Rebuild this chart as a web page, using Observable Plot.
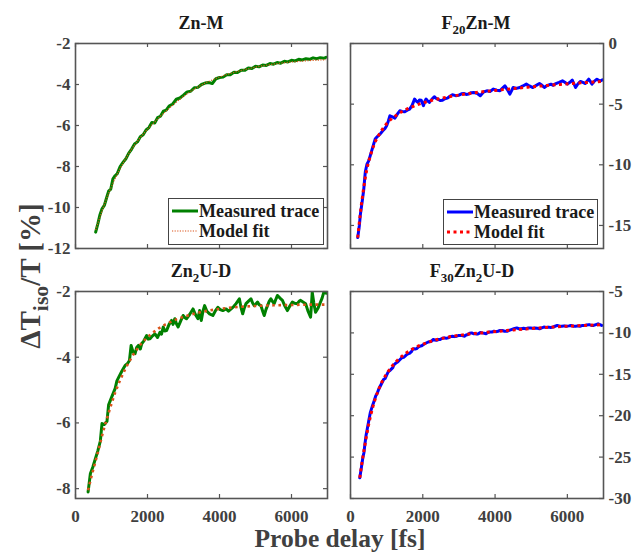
<!DOCTYPE html>
<html><head><meta charset="utf-8">
<script src="https://cdn.jsdelivr.net/npm/d3@7"></script>
<script src="https://cdn.jsdelivr.net/npm/@observablehq/plot@0.6"></script>
<style>
body{margin:0;background:#fff;}
#root{position:relative;width:634px;height:552px;overflow:hidden;font-family:"Liberation Serif","Times New Roman",serif;font-weight:bold;color:#404040;}
.panel{position:absolute;}
.title{position:absolute;font-size:18px;color:#1a1a1a;transform:translate(-50%,-50%);white-space:nowrap;line-height:1;}
.title .s{font-size:0.72em;position:relative;top:0.4em;}
.legend{position:absolute;background:#fff;border:1.5px solid #444;box-sizing:border-box;font-size:18px;color:#1a1a1a;}
.legend .row{position:absolute;left:3px;display:flex;align-items:center;white-space:nowrap;line-height:1;}
.legend svg{margin-right:1px;}
#ylab{position:absolute;left:30px;top:276px;transform:translate(-50%,-50%) rotate(-90deg);font-size:29px;white-space:nowrap;line-height:1;}
#ylab .s{font-size:0.75em;position:relative;top:0.38em;}
#xlab{position:absolute;left:340px;top:539px;transform:translate(-50%,-50%);font-size:25.5px;white-space:nowrap;line-height:0.96;}
</style></head>
<body><div id="root"></div>
<script>
// ---------- data ----------
const xTicks = [0, 2000, 4000, 6000];
const xDomain = [0, 7000];

// Zn-M
const znM_yTicks = [-12, -10, -8, -6, -4, -2];
const znM_yDomain = [-12, -2];
const znM_measured = [[560,-11.20],[620,-10.80],[680,-10.35],[740,-10.05],[800,-9.90],[860,-9.55],[920,-9.20],[980,-9.10],[1040,-8.60],[1100,-8.45],[1160,-8.35],[1240,-8.00],[1320,-7.80],[1400,-7.62],[1480,-7.35],[1560,-7.15],[1640,-6.90],[1720,-6.80],[1800,-6.55],[1880,-6.45],[1960,-6.22],[2040,-6.10],[2120,-5.85],[2200,-5.88],[2280,-5.62],[2360,-5.55],[2440,-5.30],[2520,-5.25],[2600,-5.05],[2700,-4.95],[2800,-4.72],[2900,-4.66],[3000,-4.52],[3100,-4.36],[3200,-4.33],[3300,-4.16],[3400,-4.14],[3500,-4.00],[3600,-3.93],[3700,-3.90],[3800,-3.95],[3900,-3.72],[4000,-3.66],[4100,-3.64],[4200,-3.52],[4300,-3.52],[4400,-3.40],[4500,-3.41],[4600,-3.30],[4700,-3.31],[4800,-3.20],[4900,-3.22],[5000,-3.11],[5100,-3.14],[5200,-3.05],[5300,-3.07],[5400,-2.98],[5500,-3.01],[5600,-2.93],[5700,-2.96],[5800,-2.87],[5900,-2.90],[6000,-2.82],[6100,-2.85],[6200,-2.77],[6300,-2.80],[6400,-2.74],[6500,-2.77],[6600,-2.70],[6700,-2.74],[6800,-2.69],[6900,-2.72],[6960,-2.67]];
const znM_fit = [[560,-11.10],[650,-10.62],[750,-10.10],[850,-9.62],[950,-9.18],[1050,-8.78],[1150,-8.40],[1300,-7.90],[1450,-7.45],[1600,-7.05],[1800,-6.58],[2000,-6.18],[2200,-5.82],[2400,-5.48],[2600,-5.16],[2800,-4.86],[3000,-4.58],[3300,-4.22],[3600,-3.93],[3900,-3.70],[4200,-3.51],[4500,-3.36],[4800,-3.23],[5100,-3.12],[5400,-3.03],[5700,-2.96],[6000,-2.90],[6300,-2.86],[6600,-2.82],[6960,-2.79]];

// F20Zn-M
const f20_yTicks = [-15, -10, -5, 0];
const f20_yDomain = [-16.9, 0];
const f20_measured = [[200,-16.0],[245,-15.0],[273,-14.1],[320,-13.1],[364,-12.1],[409,-10.6],[455,-9.95],[500,-9.7],[545,-9.26],[610,-8.6],[682,-7.88],[750,-7.65],[818,-7.47],[865,-7.3],[909,-7.14],[955,-7.0],[1000,-6.78],[1045,-6.4],[1091,-5.96],[1160,-6.05],[1227,-6.15],[1300,-5.8],[1364,-5.55],[1430,-5.6],[1500,-5.63],[1570,-5.5],[1636,-5.41],[1705,-5.1],[1773,-4.58],[1820,-4.75],[1864,-4.86],[1910,-4.65],[1955,-4.67],[2018,-5.13],[2060,-4.75],[2091,-4.58],[2140,-4.75],[2182,-4.86],[2250,-4.6],[2318,-4.39],[2360,-4.5],[2409,-4.58],[2480,-4.7],[2545,-4.67],[2610,-4.55],[2682,-4.5],[2750,-4.35],[2818,-4.23],[2910,-4.3],[3000,-4.26],[3070,-4.15],[3136,-4.12],[3200,-4.2],[3273,-4.17],[3340,-4.05],[3409,-4.04],[3500,-4.1],[3591,-4.31],[3680,-4.0],[3773,-3.9],[3860,-3.95],[3954,-3.76],[4045,-3.85],[4136,-3.9],[4200,-3.7],[4273,-3.49],[4340,-3.8],[4409,-4.17],[4455,-3.9],[4500,-3.63],[4590,-3.7],[4682,-3.63],[4770,-3.5],[4864,-3.35],[4950,-3.5],[5045,-3.63],[5140,-3.45],[5227,-3.3],[5300,-3.45],[5363,-3.63],[5450,-3.45],[5545,-3.35],[5610,-3.45],[5682,-3.3],[5770,-3.2],[5864,-3.08],[5930,-3.2],[6000,-3.35],[6070,-3.2],[6136,-3.02],[6180,-3.3],[6227,-3.63],[6300,-3.3],[6363,-3.13],[6430,-3.2],[6500,-3.3],[6545,-3.1],[6591,-2.94],[6640,-3.15],[6682,-3.35],[6750,-3.1],[6818,-2.94],[6900,-3.1],[6969,-3.0]];
const f20_fit = [[200,-16.0],[250,-14.6],[300,-13.3],[350,-12.2],[400,-11.2],[450,-10.4],[500,-9.75],[600,-8.75],[700,-8.0],[800,-7.45],[900,-7.0],[1000,-6.6],[1100,-6.3],[1200,-6.05],[1400,-5.65],[1600,-5.35],[1800,-5.1],[2000,-4.9],[2200,-4.72],[2500,-4.52],[2800,-4.35],[3100,-4.2],[3400,-4.07],[3700,-3.96],[4000,-3.87],[4300,-3.78],[4600,-3.69],[4900,-3.6],[5200,-3.52],[5500,-3.45],[5800,-3.38],[6100,-3.31],[6400,-3.24],[6700,-3.18],[6969,-3.12]];

// Zn2U-D
const zn2_yTicks = [-8, -6, -4, -2];
const zn2_yDomain = [-8.3, -2];
const zn2_measured = [[350,-8.10],[414,-7.54],[480,-7.35],[552,-7.09],[620,-6.85],[690,-6.55],[736,-6.02],[800,-6.05],[874,-5.95],[920,-5.45],[1010,-5.2],[1103,-4.95],[1150,-4.72],[1195,-4.62],[1290,-4.42],[1379,-4.25],[1440,-4.2],[1499,-4.1],[1545,-3.64],[1600,-3.85],[1655,-3.89],[1700,-3.7],[1747,-3.64],[1800,-3.75],[1839,-3.59],[1900,-3.5],[1977,-3.34],[2020,-3.45],[2069,-3.44],[2140,-3.35],[2207,-3.29],[2280,-3.4],[2345,-3.24],[2390,-3.3],[2437,-3.08],[2480,-3.2],[2529,-3.19],[2600,-3.0],[2667,-2.88],[2710,-3.0],[2759,-2.83],[2810,-3.0],[2851,-3.08],[2920,-2.9],[2989,-2.73],[3040,-2.8],[3082,-2.83],[3170,-2.7],[3264,-2.53],[3330,-2.7],[3402,-2.83],[3448,-2.58],[3494,-2.88],[3540,-2.6],[3586,-2.43],[3650,-2.6],[3724,-2.68],[3816,-2.73],[3880,-2.6],[3954,-2.48],[4020,-2.55],[4092,-2.58],[4184,-2.53],[4250,-2.6],[4322,-2.53],[4400,-2.45],[4460,-2.37],[4552,-2.22],[4600,-2.5],[4644,-2.68],[4690,-2.5],[4736,-2.37],[4800,-2.3],[4874,-2.22],[4920,-2.35],[4966,-2.43],[5010,-2.38],[5058,-2.32],[5100,-2.4],[5150,-2.43],[5200,-2.6],[5242,-2.73],[5290,-2.55],[5334,-2.43],[5380,-2.3],[5426,-2.22],[5470,-2.3],[5518,-2.37],[5560,-2.25],[5610,-2.12],[5680,-2.2],[5748,-2.27],[5820,-2.45],[5886,-2.58],[5950,-2.45],[6024,-2.32],[6090,-2.36],[6162,-2.37],[6210,-2.3],[6254,-2.27],[6320,-2.32],[6392,-2.37],[6460,-2.6],[6530,-2.78],[6555,-2.4],[6576,-2.02],[6620,-2.35],[6668,-2.63],[6740,-2.5],[6806,-2.32],[6850,-2.2],[6898,-2.02],[6960,-2.05]];
const zn2_fit = [[350,-8.05],[450,-7.6],[550,-7.19],[650,-6.78],[740,-6.38],[830,-6.02],[920,-5.7],[1010,-5.38],[1100,-5.08],[1200,-4.8],[1300,-4.55],[1400,-4.32],[1500,-4.12],[1600,-3.93],[1700,-3.77],[1800,-3.62],[1900,-3.5],[2000,-3.39],[2150,-3.25],[2300,-3.13],[2500,-3.0],[2750,-2.87],[3000,-2.77],[3250,-2.69],[3500,-2.62],[3750,-2.57],[4000,-2.53],[4500,-2.47],[5000,-2.44],[5500,-2.42],[6000,-2.41],[6500,-2.4],[6960,-2.4]];

// F30Zn2U-D
const f30_yTicks = [-30, -25, -20, -15, -10, -5];
const f30_yDomain = [-30, -5];
const f30_measured = [[257,-27.5],[300,-26.3],[340,-25.1],[370,-24.5],[400,-23.4],[430,-22.4],[460,-21.7],[510,-20.5],[550,-19.6],[600,-18.9],[640,-18.4],[700,-17.6],[740,-17.3],[780,-16.8],[850,-16.2],[920,-15.6],[960,-15.5],[1000,-15.1],[1050,-14.65],[1100,-14.5],[1170,-14.2],[1200,-13.85],[1240,-13.7],[1290,-13.55],[1330,-13.4],[1420,-13.0],[1470,-12.95],[1510,-12.8],[1560,-12.6],[1600,-12.5],[1640,-12.45],[1680,-12.3],[1720,-12.0],[1750,-11.9],[1790,-11.95],[1830,-11.9],[1880,-11.7],[1930,-11.6],[1970,-11.55],[2020,-11.4],[2080,-11.25],[2150,-11.1],[2220,-11.05],[2290,-10.8],[2330,-10.85],[2380,-10.9],[2430,-10.8],[2480,-10.8],[2540,-10.65],[2600,-10.6],[2650,-10.65],[2700,-10.6],[2760,-10.45],[2820,-10.4],[2880,-10.45],[2940,-10.4],[3000,-10.3],[3060,-10.3],[3110,-10.35],[3160,-10.4],[3200,-10.25],[3250,-10.2],[3300,-10.05],[3350,-10.0],[3400,-10.1],[3450,-10.1],[3500,-10.15],[3540,-10.1],[3590,-9.95],[3640,-10.0],[3700,-10.05],[3750,-10.1],[3800,-9.95],[3850,-9.9],[3910,-9.9],[3970,-9.8],[4020,-9.85],[4080,-9.8],[4140,-9.7],[4200,-9.7],[4260,-9.8],[4330,-9.8],[4390,-9.7],[4450,-9.6],[4520,-9.5],[4600,-9.4],[4660,-9.5],[4720,-9.5],[4790,-9.45],[4850,-9.5],[4920,-9.4],[4980,-9.4],[5040,-9.45],[5100,-9.4],[5170,-9.45],[5230,-9.5],[5290,-9.4],[5350,-9.3],[5420,-9.35],[5480,-9.3],[5540,-9.35],[5600,-9.3],[5660,-9.2],[5720,-9.1],[5790,-9.2],[5850,-9.2],[5910,-9.15],[5970,-9.2],[6040,-9.15],[6100,-9.1],[6170,-9.2],[6230,-9.2],[6290,-9.15],[6350,-9.2],[6420,-9.1],[6480,-9.1],[6540,-9.05],[6600,-9.0],[6670,-9.1],[6730,-9.1],[6790,-9.0],[6850,-8.9],[6900,-9.0],[6950,-9.1]];
const f30_fit = [[257,-27.5],[320,-25.6],[380,-24.0],[440,-22.5],[500,-21.1],[560,-19.9],[620,-18.9],[700,-17.75],[780,-16.8],[860,-16.0],[940,-15.35],[1020,-14.8],[1100,-14.3],[1200,-13.75],[1300,-13.3],[1400,-12.9],[1500,-12.55],[1600,-12.25],[1700,-11.98],[1800,-11.75],[1900,-11.55],[2000,-11.37],[2200,-11.05],[2400,-10.8],[2600,-10.6],[2800,-10.43],[3000,-10.3],[3300,-10.13],[3600,-10.0],[3900,-9.88],[4200,-9.76],[4500,-9.64],[4800,-9.53],[5100,-9.43],[5400,-9.34],[5700,-9.26],[6000,-9.19],[6300,-9.13],[6600,-9.07],[6950,-9.02]];

const legendLabels = ["Measured trace", "Model fit"];

// ---------- drawing ----------
const root = document.getElementById("root");
const FRAME = "#555";

function makePanel(cfg) {
  const innerW = cfg.width - cfg.ml - cfg.mr;
  const innerH = cfg.height - cfg.mt - cfg.mb;
  const plot = Plot.plot({
    width: cfg.width, height: cfg.height,
    marginLeft: cfg.ml, marginRight: cfg.mr, marginTop: cfg.mt, marginBottom: cfg.mb,
    style: {fontFamily: '"Liberation Serif","Times New Roman",serif', fontSize: "17px", fontWeight: "bold", color: "#404040", background: "transparent", overflow: "visible"},
    x: {domain: xDomain},
    y: {domain: cfg.yDomain},
    marks: [
      Plot.line(cfg.measured, {x: d => d[0], y: d => d[1], stroke: cfg.color, strokeWidth: cfg.measWidth, clip: true}),
      Plot.line(cfg.fit, {x: d => d[0], y: d => d[1], stroke: cfg.fitColor, strokeWidth: cfg.fitWidth, strokeDasharray: cfg.fitDash, strokeLinecap: "butt", clip: true}),
      Plot.tickX(xTicks, {x: d => d, insetTop: innerH - 4, stroke: FRAME, strokeWidth: 1.2}),
      Plot.tickX(xTicks, {x: d => d, insetBottom: innerH - 4, stroke: FRAME, strokeWidth: 1.2}),
      Plot.tickY(cfg.yTicks, {y: d => d, insetRight: innerW - 4, stroke: FRAME, strokeWidth: 1.2}),
      Plot.tickY(cfg.yTicks, {y: d => d, insetLeft: innerW - 4, stroke: FRAME, strokeWidth: 1.2}),
      Plot.frame({stroke: FRAME, strokeWidth: 1.6}),
      Plot.axisY(cfg.yTicks, {anchor: cfg.ySide, tickSize: 0, tickPadding: 5, tickFormat: d => String(d), label: null}),
      cfg.showX
        ? Plot.axisX(xTicks, {anchor: "bottom", tickSize: 0, tickPadding: 11, tickFormat: d => String(d), label: null})
        : Plot.axisX([], {anchor: "bottom", tickSize: 0, label: null})
    ]
  });
  plot.classList.add("panel");
  plot.style.left = cfg.left + "px";
  plot.style.top = cfg.top + "px";
  root.appendChild(plot);

  const t = document.createElement("div");
  t.className = "title";
  t.innerHTML = cfg.title;
  t.style.left = cfg.titleX + "px";
  t.style.top = cfg.titleY + "px";
  root.appendChild(t);

  if (cfg.legend) {
    const L = cfg.legend;
    const lg = document.createElement("div");
    lg.className = "legend";
    lg.style.left = L.x + "px"; lg.style.top = L.y + "px";
    lg.style.width = L.w + "px"; lg.style.height = L.h + "px";
    const styles = [
      {stroke: cfg.color, width: cfg.measWidth, dash: null},
      {stroke: cfg.fitColor, width: cfg.fitWidth, dash: cfg.fitDash}
    ];
    legendLabels.forEach((lab, i) => {
      const row = document.createElement("div");
      row.className = "row";
      row.style.top = (i === 0 ? 3 : 23) + "px";
      const s = styles[i];
      row.innerHTML = `<svg width="${L.sw}" height="14"><line x1="0" x2="${L.sw}" y1="7" y2="7" stroke="${s.stroke}" stroke-width="${s.width}" ${s.dash ? `stroke-dasharray="${s.dash}"` : ""}/></svg><span>${lab}</span>`;
      lg.appendChild(row);
    });
    root.appendChild(lg);
  }
}

makePanel({
  left: 0, top: 0, width: 330, height: 262, ml: 75, mr: 3, mt: 43, mb: 14,
  yDomain: znM_yDomain, yTicks: znM_yTicks, ySide: "left", showX: false,
  measured: znM_measured, fit: znM_fit,
  color: "#008000", measWidth: 3, fitColor: "#D95319", fitWidth: 1.2, fitDash: "1.2 1.4",
  title: "Zn-M", titleX: 201, titleY: 23,
  legend: {x: 168, y: 198, w: 156, h: 47, sw: 26}
});
makePanel({
  left: 330, top: 0, width: 304, height: 262, ml: 20, mr: 31, mt: 43, mb: 14,
  yDomain: f20_yDomain, yTicks: f20_yTicks, ySide: "right", showX: false,
  measured: f20_measured, fit: f20_fit,
  color: "#0000FF", measWidth: 3, fitColor: "#FF0000", fitWidth: 3, fitDash: "3 3.5",
  title: "F<span class='s'>20</span>Zn-M", titleX: 476, titleY: 23,
  legend: {x: 443, y: 199, w: 155, h: 46, sw: 26}
});
makePanel({
  left: 0, top: 262, width: 330, height: 290, ml: 75, mr: 3, mt: 29, mb: 54,
  yDomain: zn2_yDomain, yTicks: zn2_yTicks, ySide: "left", showX: true,
  measured: zn2_measured, fit: zn2_fit,
  color: "#008000", measWidth: 3, fitColor: "#D95319", fitWidth: 2.6, fitDash: "2.6 3.6",
  title: "Zn<span class='s'>2</span>U-D", titleX: 201, titleY: 271
});
makePanel({
  left: 330, top: 262, width: 304, height: 290, ml: 20, mr: 31, mt: 29, mb: 54,
  yDomain: f30_yDomain, yTicks: f30_yTicks, ySide: "right", showX: true,
  measured: f30_measured, fit: f30_fit,
  color: "#0000FF", measWidth: 3, fitColor: "#FF0000", fitWidth: 3, fitDash: "3 3.5",
  title: "F<span class='s'>30</span>Zn<span class='s'>2</span>U-D", titleX: 472, titleY: 271
});

const yl = document.createElement("div");
yl.id = "ylab";
yl.innerHTML = "ΔT<span class='s'>iso</span>/T [%]";
root.appendChild(yl);
const xl = document.createElement("div");
xl.id = "xlab";
xl.textContent = "Probe delay [fs]";
root.appendChild(xl);
</script>
</body></html>
